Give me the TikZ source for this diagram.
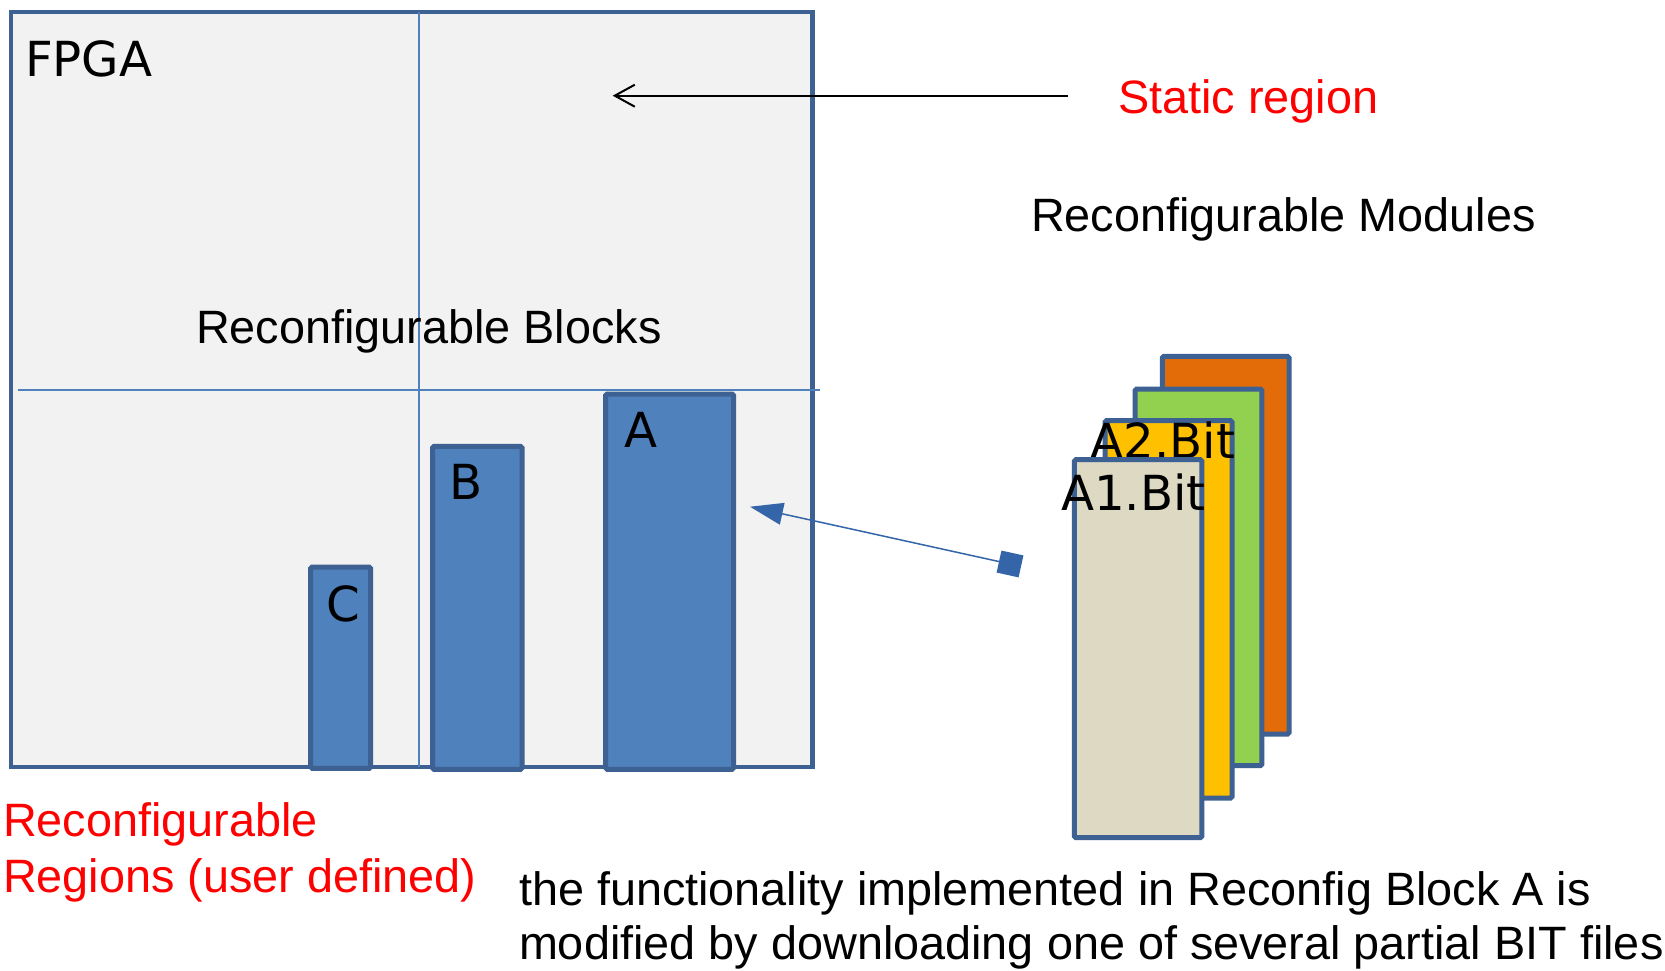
\documentclass[tikz,border=0pt]{standalone}
\usepackage{fontspec}
\setmainfont{Liberation Sans}
\newfontfamily\dejavu{DejaVu Sans}
\usetikzlibrary{arrows.meta}

\definecolor{fpgafill}{HTML}{F2F2F2}
\definecolor{edgeblue}{HTML}{3D6192}
\definecolor{gridblue}{HTML}{4F81BD}
\definecolor{blockblue}{HTML}{4F81BD}
\definecolor{linkblue}{HTML}{3465A8}
\definecolor{bitorange}{HTML}{E36C09}
\definecolor{bitgreen}{HTML}{92D050}
\definecolor{bityellow}{HTML}{FFC000}
\definecolor{bitbeige}{HTML}{DDD9C3}
\definecolor{notered}{HTML}{FF0000}

\begin{document}
\begin{tikzpicture}[x=1pt, y=-1pt,
  panel/.style={draw=edgeblue, fill=fpgafill, line width=4.5pt, inner sep=0pt, outer sep=0pt, anchor=north west},
  slab/.style={draw=edgeblue, line width=5pt, rounded corners=1.5pt, inner sep=0pt, outer sep=0pt, anchor=north west},
  grid/.style={draw=gridblue, line width=2pt},
  sanslbl/.style={inner sep=0pt, outer sep=0pt, anchor=base west, font=\fontsize{46.8}{50}\selectfont},
  dvlbl/.style={inner sep=0pt, outer sep=0pt, anchor=base west, font=\dejavu\fontsize{48.3}{50}\selectfont},
  rednote/.style={sanslbl, text=notered}
]
% canvas
\fill[white] (0,0) rectangle (1665,970);
\useasboundingbox (0,0) rectangle (1665,970);

% FPGA outline with the static/reconfigurable split
\node[panel, minimum width=801.7pt, minimum height=755pt] (fpga) at (10.8,12) {};
\coordinate (vtop) at (419,12);
\coordinate (vbot) at (419,767);
\coordinate (hleft) at (18,390);
\coordinate (hright) at (820,390);
\draw[grid] (vtop) -- (vbot);
\draw[grid] (hleft) -- (hright);

% reconfigurable blocks
\node[slab, fill=blockblue, minimum width=60pt, minimum height=201.3pt] (blkC) at (310.7,567) {};
\node[slab, fill=blockblue, minimum width=89.5pt, minimum height=323pt] (blkB) at (432.5,446.3) {};
\node[slab, fill=blockblue, minimum width=127.9pt, minimum height=375.3pt] (blkA) at (605.7,394) {};

% labels inside the FPGA
\node[dvlbl] (fpgalbl) at (25,76) {FPGA};
\node[sanslbl] (blockslbl) at (196,343.3) {Reconfigurable Blocks};
\node[dvlbl] (lblA) at (624,447) {A};
\node[dvlbl] (lblB) at (449,499) {B};
\node[dvlbl] (lblC) at (326.5,621) {C};

% static region pointer
\coordinate (statictail) at (1068,95.7);
\coordinate (statichead) at (612.7,95.7);
\draw[line width=2pt, -{Straight Barb[length=20pt,width=22pt]}] (statictail) -- (statichead);
\node[rednote] (staticlbl) at (1118,113.3) {Static region};

% stack of partial bit files
\node[slab, fill=bitorange, minimum width=126.6pt, minimum height=377.7pt] (bitD) at (1162.4,356.3) {};
\node[slab, fill=bitgreen, minimum width=126.7pt, minimum height=376.7pt] (bitC) at (1135.2,389) {};
\node[slab, fill=bityellow, minimum width=127pt, minimum height=377.3pt] (bitB) at (1105,420.7) {};
\node[dvlbl] (a2lbl) at (1090.5,458) {A2.Bit};
\node[slab, fill=bitbeige, minimum width=127.4pt, minimum height=378pt] (bitA) at (1074.4,459.7) {};
\node[dvlbl] (a1lbl) at (1061,510) {A1.Bit};

\node[sanslbl] (moduleslbl) at (1031,231.7) {Reconfigurable Modules};

% download link from the bit files to block A
\coordinate (linkfrom) at (1021,566.4);
\coordinate (linkto) at (750,506.7);
\draw[draw=linkblue, line width=1.5pt,
      {Square[length=22.5pt,width=22.5pt,fill=linkblue]}-{Triangle[length=33pt,width=22pt,fill=linkblue]}]
  (linkfrom) -- (linkto);

% notes
\node[rednote] (regions1) at (3,836.7) {Reconfigurable};
\node[rednote] (regions2) at (3,892.7) {Regions (user defined)};
\node[sanslbl] (note1) at (519,905) {the functionality implemented in Reconfig Block A is};
\node[sanslbl] (note2) at (519,959) {modified by downloading one of several partial BIT files};
\end{tikzpicture}
\end{document}
